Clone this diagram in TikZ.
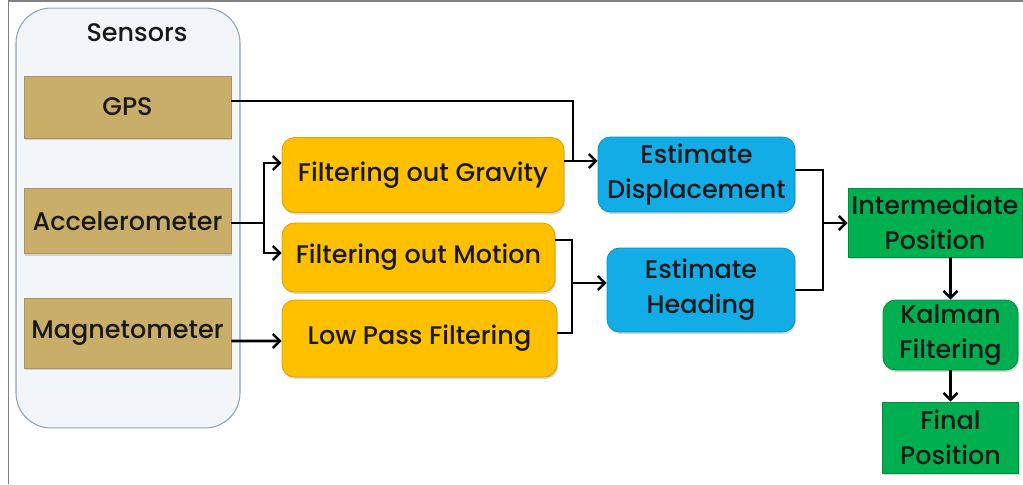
\documentclass[tikz,border=0pt]{standalone}
\usepackage{fontspec}
\setmainfont{Poppins}[UprightFont={* Medium}]
\usetikzlibrary{arrows.meta,shadows}

\definecolor{sensfill}{HTML}{F2F6FA}
\definecolor{sensline}{HTML}{8AA2BC}
\definecolor{tanfill}{HTML}{C9AE6A}
\definecolor{goldfill}{HTML}{FFC000}
\definecolor{bluefill}{HTML}{12ADE6}
\definecolor{greenfill}{HTML}{00B050}
\definecolor{framegray}{HTML}{808080}

\tikzset{
  blk/.style={inner sep=0pt, align=center, text=black!90,
    font=\fontsize{14.5}{20}\selectfont, line width=0.5pt,
    drop shadow={shadow xshift=0.6pt, shadow yshift=-1.2pt, opacity=0.3}},
  tanbox/.style={blk, fill=tanfill, draw=tanfill!85!black},
  goldbox/.style={blk, fill=goldfill, draw=goldfill!85!black, rounded corners=0.25cm},
  bluebox/.style={blk, fill=bluefill, draw=bluefill!85!black, rounded corners=0.25cm},
  greenbox/.style={blk, fill=greenfill, draw=greenfill!80!black},
  link/.style={line width=1.45pt, draw=black},
  arr/.style={link, -{Straight Barb[length=4pt,width=8pt,line width=1.4pt]}},
}

\begin{document}
\begin{tikzpicture}[x=0.02cm,y=-0.02cm]
    \useasboundingbox (0,0) rectangle (1023,484);

    % frame
    \draw[framegray, line width=0.04cm] (8.5,484) -- (8.5,1) -- (1023,1);

    % sensors group
    \node[fill=sensfill, draw=sensline, line width=0.6pt, rounded corners=0.7cm,
          minimum width=4.48cm, minimum height=8.4cm] (sensors) at (128,218) {};
    \node[font=\fontsize{14.5}{17}\selectfont, text=black!90] (senslabel) at (137,33) {Sensors};

    \node[tanbox, minimum width=4.14cm, minimum height=1.24cm] (gps) at (127.5,107) {GPS};
    \node[tanbox, minimum width=4.14cm, minimum height=1.3cm] (acc) at (127.5,221) {Accelerometer};
    \node[tanbox, minimum width=4.14cm, minimum height=1.4cm] (mag) at (127.5,333) {Magnetometer};

    % filters
    \node[goldbox, minimum width=5.64cm, minimum height=1.5cm] (grav) at (423,175) {Filtering out Gravity};
    \node[goldbox, minimum width=5.46cm, minimum height=1.38cm] (motion) at (418.5,257.5) {Filtering out Motion};
    \node[goldbox, minimum width=5.5cm, minimum height=1.54cm] (low) at (419.5,338.5) {Low Pass Filtering};

    % estimates
    \node[bluebox, minimum width=3.94cm, minimum height=1.5cm] (disp) at (696.5,174.5) {Estimate\\Displacement};
    \node[bluebox, minimum width=3.76cm, minimum height=1.68cm] (head) at (701,290) {Estimate\\Heading};

    % positions
    \node[greenbox, minimum width=3.48cm, minimum height=1.38cm] (inter) at (935,222.5) {Intermediate\\Position};
    \node[greenbox, rounded corners=0.25cm, minimum width=2.7cm, minimum height=1.4cm] (kal) at (950.5,335) {Kalman\\Filtering};
    \node[greenbox, minimum width=2.72cm, minimum height=1.42cm] (fin) at (950.5,437.5) {Final\\Position};

    % connectors
    \coordinate (gj) at (573,161);
    \draw[link] ([yshift=0.12cm]gps.east) -| (gj);
    \draw[arr] (grav.east |- gj) -- (disp.west |- gj);

    \coordinate (aj) at (264,223);
    \draw[link] (acc.east |- aj) -- (aj);
    \draw[arr] (aj) |- ([yshift=0.24cm]grav.west);
    \draw[arr] (aj) |- ([yshift=0.09cm]motion.west);

    \draw[arr] ([yshift=-0.16cm]mag.east) -- ([yshift=-0.05cm]low.west);

    \coordinate (mj) at (572,283);
    \draw[link] ([yshift=0.35cm]motion.east) -| (mj);
    \draw[link] ([yshift=0.11cm]low.east) -| (mj);
    \draw[arr] (mj) -- (head.west |- mj);

    \coordinate (ej) at (823,223);
    \draw[link] ([yshift=0.09cm]disp.east) -| (ej);
    \draw[link] (head.east) -| (ej);
    \draw[arr] (ej) -- (inter.west |- ej);

    \draw[arr] (inter.south -| kal) -- (kal.north);
    \draw[arr] (kal.south) -- (fin.north);

          \end{tikzpicture}
\end{document}
